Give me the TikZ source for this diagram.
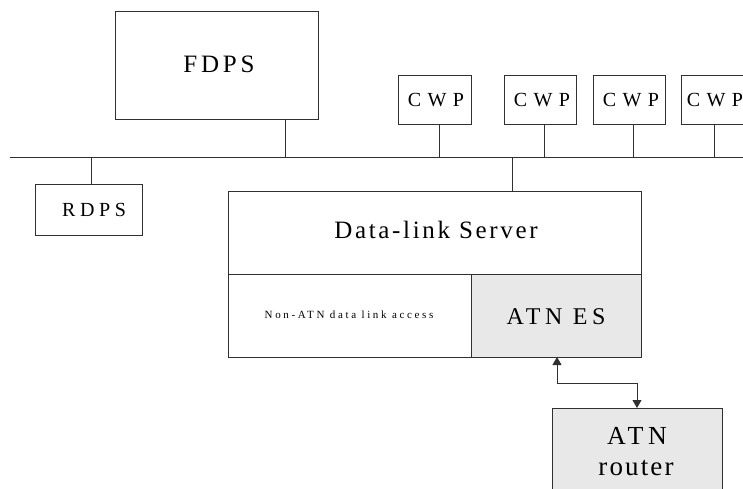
\documentclass[tikz,border=0pt]{standalone}
\usepackage{fontspec}
\setmainfont{Liberation Serif}
\newfontfamily\lsfdps[LetterSpace=15]{Liberation Serif}
\newfontfamily\lscwp[LetterSpace=32]{Liberation Serif}
\newfontfamily\lsrdps[LetterSpace=23]{Liberation Serif}
\newfontfamily\lsdls[LetterSpace=10.7]{Liberation Serif}
\newfontfamily\lsnon[LetterSpace=24]{Liberation Serif}
\newfontfamily\lses[LetterSpace=19]{Liberation Serif}
\newfontfamily\lsatn[LetterSpace=18]{Liberation Serif}
\newfontfamily\lsrtr[LetterSpace=8]{Liberation Serif}
\usetikzlibrary{arrows.meta}
\definecolor{ln}{HTML}{303030}
\definecolor{gfill}{HTML}{E8E8E8}
\begin{document}
\begin{tikzpicture}[x=1pt,y=-1pt,
  box/.style={draw=ln,line width=1pt},
  gbox/.style={draw=ln,line width=1pt,fill=gfill},
  wire/.style={draw=ln,line width=1pt},
  lbl/.style={inner sep=0pt,anchor=base},
  cwpf/.style={font=\lscwp\fontsize{20}{24}\selectfont}]
\useasboundingbox (0,0) rectangle (743,489);
% FDPS
\draw[box] (115,12) rectangle (318,120);
\node[lbl,font=\lsfdps\fontsize{25}{30}\selectfont] (fdps) at (219,73) {FDPS};
\coordinate (fdpsb) at (285,120);
% CWP
\draw[box] (398,76) rectangle (471,125);
\node[lbl,cwpf] (cwp1) at (436,106.7) {CWP};
\draw[box] (504,76) rectangle (576,125);
\node[lbl,cwpf] (cwp2) at (542,106.7) {CWP};
\draw[box] (593,76) rectangle (665,125);
\node[lbl,cwpf] (cwp3) at (631,106.7) {CWP};
\draw[box] (681,76) rectangle (760,125);
\node[lbl,cwpf] (cwp4) at (715,106.7) {CWP};
\coordinate (c1) at (439,125);
\coordinate (c2) at (544,125);
\coordinate (c3) at (633,125);
\coordinate (c4) at (714,125);
% bus
\coordinate (busl) at (10,158);
\coordinate (busr) at (743,158);
\draw[wire] (busl) -- (busr);
\draw[wire] (fdpsb) -- (fdpsb |- busl);
\foreach \c in {c1,c2,c3,c4} \draw[wire] (\c) -- (\c |- busl);
% RDPS
\draw[box] (35,184) rectangle (142,235);
\node[lbl,font=\lsrdps\fontsize{20}{24}\selectfont] (rdps) at (94,216.7) {RDPS};
\coordinate (rdpst) at (91,184);
\draw[wire] (rdpst |- busl) -- (rdpst);
% server
\coordinate (srvt) at (512,191);
\draw[wire] (srvt |- busl) -- (srvt);
\draw[gbox] (471,274) rectangle (641,357);
\draw[box] (228,191) rectangle (641,357);
\draw[wire] (228,274) -- (641,274);
\draw[wire] (471,274) -- (471,357);
\node[lbl,font=\lsdls\fontsize{25}{30}\selectfont] (dls) at (436,238.3) {Data-link Server};
\node[lbl,font=\lsnon\fontsize{11}{13}\selectfont] (non) at (349,318.3) {Non-ATN data link access};
\node[lbl,font=\lses\fontsize{24}{28}\selectfont] (atnes) at (556,324.3) {ATN ES};
% router
\draw[gbox] (552,408) rectangle (722,500);
\node[lbl,font=\lsatn\fontsize{26}{30}\selectfont] (rtr1) at (637,444) {ATN};
\node[lbl,font=\lsrtr\fontsize{27}{32}\selectfont] (rtr2) at (636,475) {router};
\coordinate (ea) at (557,357);
\coordinate (ra) at (637,408);
\draw[wire,{Triangle[length=8pt,width=9pt]}-{Triangle[length=8pt,width=9pt]}] (ea) -- (557,383) -- (637,383) -- (ra);
\end{tikzpicture}
\end{document}
